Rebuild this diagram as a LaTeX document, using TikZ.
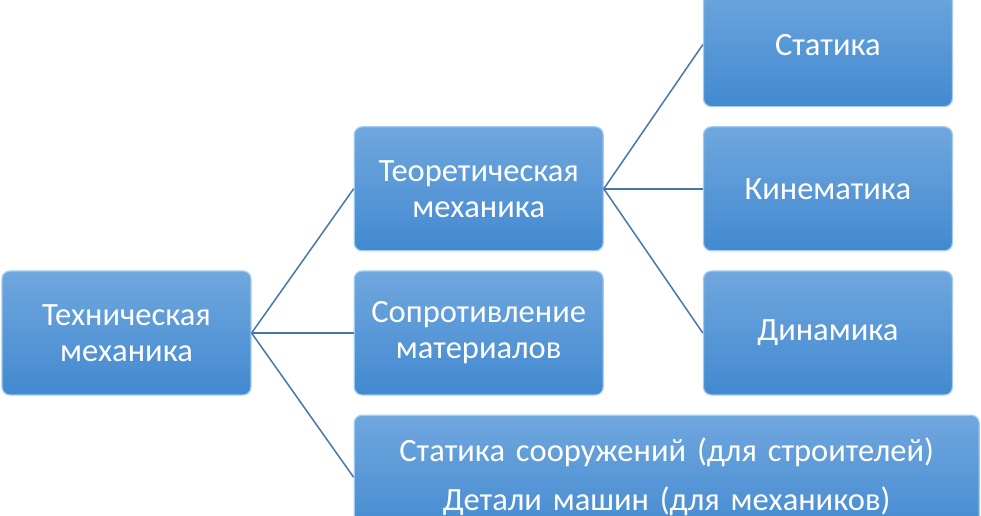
\documentclass[tikz,border=0pt]{standalone}
\usepackage{fontspec}
\setmainfont{Carlito}
\usetikzlibrary{positioning}
\definecolor{boxtop}{RGB}{112,167,222}
\definecolor{boxbot}{RGB}{66,137,208}
\definecolor{rim}{RGB}{160,205,240}
\definecolor{wire}{RGB}{70,118,172}
\tikzset{
  box/.style={draw=rim,line width=1.2pt,top color=boxtop,bottom color=boxbot,rounded corners=8pt,
    minimum width=249pt,minimum height=124pt,text width=240pt,align=center,text=white,
    font=\fontsize{32.5}{36}\selectfont,inner sep=0pt},
  wide/.style={box,minimum width=625pt,text width=610pt,font=\fontsize{32.5}{49}\selectfont},
  link/.style={draw=wire,line width=1.5pt}
}
\begin{document}
\begin{tikzpicture}[x=1pt,y=1pt,node distance=19pt and 102pt]
  \clip (0,0) rectangle (981,-515);
  \node[box] (tech) at (126.5,-333) {Техническая\\механика};
  \node[box,right=of tech] (sopr) {Сопротивление\\материалов};
  \node[box,above=of sopr] (theor) {Теоретическая\\механика};
  \node[wide,below=19pt of sopr.south west,anchor=north west] (extra) {Статика сооружений (для строителей)\\Детали машин (для механиков)};
  \node[box,right=99pt of sopr] (dyn) {Динамика};
  \node[box,above=of dyn] (kin) {Кинематика};
  \node[box,above=of kin] (stat) {Статика};
  \draw[link] (tech.east) -- (theor.west);
  \draw[link] (tech.east) -- (sopr.west);
  \draw[link] (tech.east) -- (extra.west);
  \draw[link] (theor.east) -- (stat.west);
  \draw[link] (theor.east) -- (kin.west);
  \draw[link] (theor.east) -- (dyn.west);
\end{tikzpicture}
\end{document}
